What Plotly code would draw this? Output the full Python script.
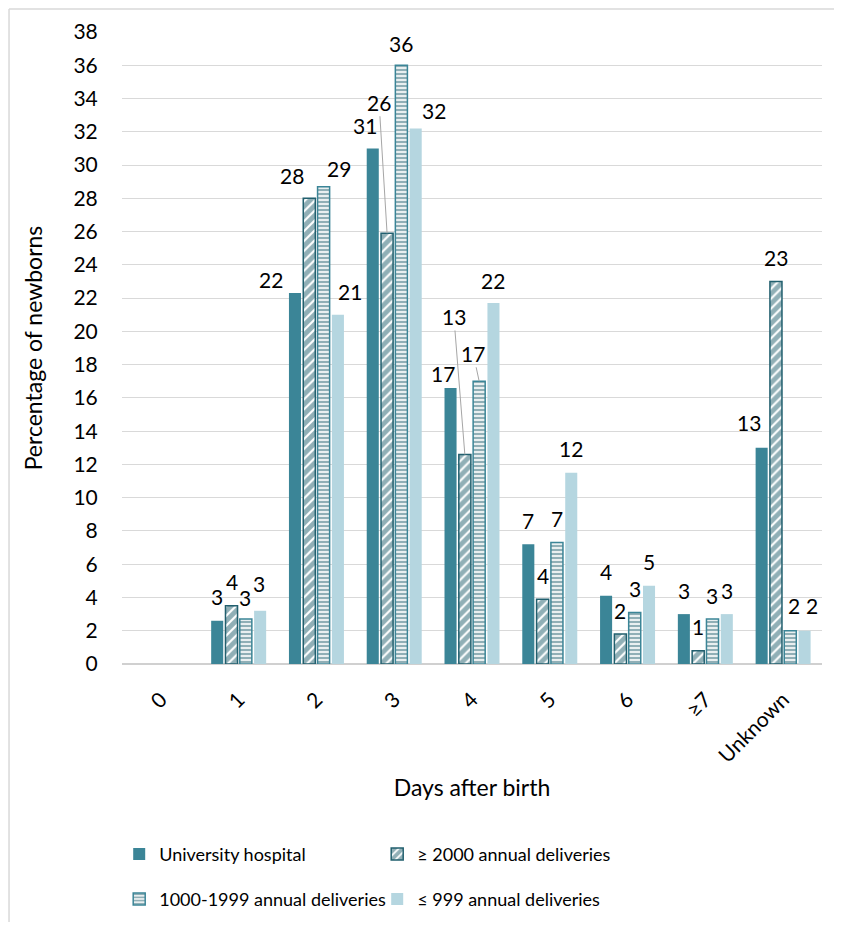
import plotly.graph_objects as go

categories = ["0", "1", "2", "3", "4", "5", "6", "≥7", "Unknown"]
series_names = ["University hospital", "≥ 2000 annual deliveries",
                "1000-1999 annual deliveries", "≤ 999 annual deliveries"]
university = [None, 2.6, 22.3, 31.0, 16.6, 7.2, 4.1, 3.0, 13.0]
ge2000 = [None, 3.5, 28.0, 25.9, 12.6, 3.9, 1.8, 0.8, 23.0]
mid = [None, 2.7, 28.7, 36.0, 17.0, 7.3, 3.1, 2.7, 2.0]
le999 = [None, 3.2, 21.0, 32.2, 21.7, 11.5, 4.7, 3.0, 2.0]
y_ticks = list(range(0, 39, 2))

all_series = [university, ge2000, mid, le999]

# styles
DARK = "#215f6e"
TEAL = "#3b8597"
LIGHT = "#b5d6e0"
FONT = "Lato"
slot = 0.184
barw = 0.155

styles = [
    dict(color=TEAL, line=dict(width=0)),
    dict(color="white", line=dict(color=DARK, width=1.5),
         pattern=dict(shape="/", fgcolor=DARK, bgcolor="white", size=7, solidity=0.7)),
    dict(color="white", line=dict(color=TEAL, width=1.5),
         pattern=dict(shape="-", fgcolor=DARK, bgcolor="white", size=4, solidity=0.6)),
    dict(color=LIGHT, line=dict(width=0)),
]
legends = ["legend", "legend", "legend2", "legend2"]

fig = go.Figure()
for j, (name, vals) in enumerate(zip(series_names, all_series)):
    xs = [i + (j - 1.5) * slot for i in range(len(categories))]
    fig.add_trace(go.Bar(x=xs, y=vals, name=name, width=barw, marker=styles[j],
                         legend=legends[j], hoverinfo="y"))

# label placement offsets (px): (dx, dy above bar top, leader line)
label_offsets = {
    (0, 2): (-24, 14, False), (1, 2): (-17, 23, False), (2, 2): (15, 18, False), (3, 2): (12, 23, False),
    (0, 3): (-8, 23, False), (1, 3): (-8, 131, True), (2, 3): (0, 22, False), (3, 3): (18, 18, False),
    (0, 4): (-8, 14, False), (1, 4): (-11, 138, True), (2, 4): (-6, 28, True), (3, 4): (0, 23, False),
    (0, 8): (-13, 25, False), (2, 8): (4, 25, False), (3, 8): (7, 25, False),
    (3, 1): (-1, 27, False), (2, 1): (-1, 22, False),
}
LABEL_SIZE = 21
for j, vals in enumerate(all_series):
    for i, v in enumerate(vals):
        if v is None:
            continue
        x = i + (j - 1.5) * slot
        txt = str(int(v + 0.5))
        dx, dy, leader = label_offsets.get((j, i), (0, 24, False))
        if leader:
            fig.add_annotation(x=x, y=v, text=txt, showarrow=True, arrowhead=0,
                               arrowwidth=1, arrowcolor="#a6a6a6", ax=dx, ay=-dy,
                               standoff=0, font=dict(family=FONT, size=LABEL_SIZE, color="#000"))
        else:
            fig.add_annotation(x=x, y=v, text=txt, showarrow=False, xshift=dx, yshift=dy,
                               yanchor="middle", font=dict(family=FONT, size=LABEL_SIZE, color="#000"))

fig.update_layout(
    width=826, height=914,
    margin=dict(l=114, r=12, t=24, b=258, autoexpand=False),
    paper_bgcolor="white", plot_bgcolor="white",
    font=dict(family=FONT, size=18, color="#000"),
    showlegend=True,
    legend=dict(orientation="h", x=-0.004, y=-0.272, xanchor="left", yanchor="top",
                entrywidth=213, font=dict(family=FONT, size=18, color="#000"),
                itemclick=False),
    legend2=dict(orientation="h", x=-0.004, y=-0.343, xanchor="left", yanchor="top",
                 entrywidth=213, font=dict(family=FONT, size=18, color="#000"),
                 itemclick=False),
    xaxis=dict(range=[-0.5, 8.5], tickvals=list(range(len(categories))), ticktext=categories,
               tickangle=-45, showgrid=False, zeroline=False, showline=False,
               ticks="outside", ticklen=14, tickcolor="rgba(0,0,0,0)",
               tickfont=dict(family=FONT, size=21, color="#000"),
               title=dict(text="Days after birth", standoff=13,
                          font=dict(family=FONT, size=23, color="#000"))),
    yaxis=dict(range=[0, 38], tickvals=y_ticks, showgrid=True, gridcolor="#d9d9d9", gridwidth=1.2,
               zeroline=True, zerolinecolor="#d0d0d0", zerolinewidth=2, showline=False,
               ticks="outside", ticklen=19, tickcolor="rgba(0,0,0,0)",
               tickfont=dict(family=FONT, size=21, color="#000"),
               title=dict(text="Percentage of newborns", standoff=24,
                          font=dict(family=FONT, size=23, color="#000"))),
    shapes=[
        dict(type="line", xref="paper", yref="paper", x0=-0.1614, x1=1.02, y0=1.0364, y1=1.0364,
             line=dict(color="#d9d9d9", width=1.5)),
        dict(type="line", xref="paper", yref="paper", x0=-0.1614, x1=-0.1614, y0=1.0364, y1=-0.41,
             line=dict(color="#d9d9d9", width=1.5)),
    ],
)

fig.write_html("out.html")
